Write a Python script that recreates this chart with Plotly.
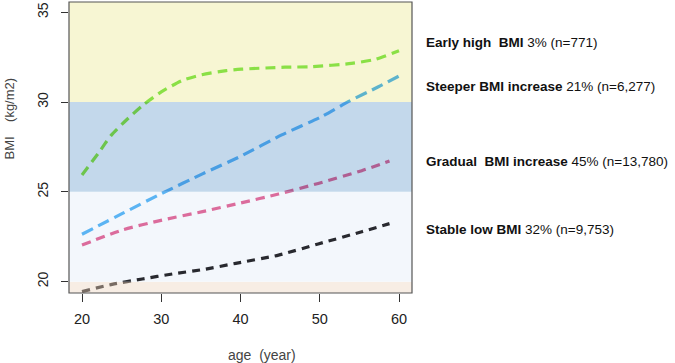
import plotly.graph_objects as go

# ---- data ----
age_green = [20, 22.06, 23.7, 25.6, 27.7, 30.05, 32.6, 34.9, 38.2, 40.1, 45.6, 49, 54, 57, 60]
bmi_green = [25.94, 27.15, 28.16, 29.0, 29.83, 30.58, 31.19, 31.5, 31.75, 31.83, 31.94, 31.97, 32.15, 32.38, 32.85]

age_blue = [20, 25.1, 30.1, 35.2, 40.1, 45.2, 50.2, 53.6, 57.4, 60]
bmi_blue = [22.64, 23.8, 24.92, 26.0, 27.0, 28.17, 29.18, 30.02, 30.85, 31.45]

age_pink = [20, 25.1, 30.1, 35.2, 40, 44.8, 49.8, 55.3, 58.8]
bmi_pink = [22.04, 22.88, 23.43, 23.9, 24.38, 24.88, 25.47, 26.18, 26.72]

age_black = [20, 23.8, 27.6, 31.4, 35.2, 39.4, 44.8, 49.8, 55.3, 58.8]
bmi_black = [19.45, 19.85, 20.15, 20.43, 20.67, 21.02, 21.48, 22.1, 22.78, 23.23]

x_ticks = [20, 30, 40, 50, 60]
y_ticks = [20, 25, 30, 35]

band_edges = [19.37, 20, 25, 30, 35.57]
band_colors = [(247, 237, 228), (243, 247, 252), (195, 216, 235), (247, 246, 211)]

labels_bold = ["Early high&nbsp;&nbsp;BMI", "Steeper BMI increase", "Gradual&nbsp; BMI increase", "Stable low BMI"]
labels_rest = ["3% (n=771)", "21% (n=6,277)", "45% (n=13,780)", "32% (n=9,753)"]
label_y = [33.3, 30.85, 26.68, 22.88]

series = [
    (age_green, bmi_green, (142, 232, 84), "10px,6px"),
    (age_blue, bmi_blue, (96, 186, 246), "12px,6px"),
    (age_pink, bmi_pink, (230, 112, 158), "9px,6px"),
    (age_black, bmi_black, (42, 42, 48), "8px,6px"),
]

XR = [18.36, 61.64]
YR = [band_edges[0], band_edges[-1]]
span = YR[1] - YR[0]


def multiply(c, b):
    return "rgb(%d,%d,%d)" % tuple(round(ci * bi / 255) for ci, bi in zip(c, b))


fig = go.Figure()
# invisible trace so the main (x, y) subplot carries the shapes and ticks
fig.add_trace(go.Scatter(x=[XR[0]], y=[YR[0]], mode="markers", marker=dict(opacity=0),
                         hoverinfo="skip", showlegend=False))

layout_axes = {}
for i in range(4):
    lo, hi = band_edges[i], band_edges[i + 1]
    ax_name = "yaxis%d" % (i + 2)
    layout_axes[ax_name] = dict(domain=[(lo - YR[0]) / span, (hi - YR[0]) / span], range=[lo, hi],
                                visible=False, showgrid=False, zeroline=False, anchor="x")
    for si, (xs, ys, col, dash) in enumerate(series):
        c = multiply(col, band_colors[i])
        if si == 3 and i == 0:
            c = "rgb(120,108,100)"
        fig.add_trace(go.Scatter(x=xs, y=ys, mode="lines", yaxis="y%d" % (i + 2),
                                 line=dict(color=c, width=3.2, dash=dash, shape="spline", smoothing=0.6),
                                 hoverinfo="skip", showlegend=False))

shapes = []
for i in range(4):
    shapes.append(dict(type="rect", xref="paper", yref="y", x0=0, x1=1,
                       y0=band_edges[i], y1=band_edges[i + 1],
                       fillcolor="rgb(%d,%d,%d)" % band_colors[i], line=dict(width=0), layer="below"))
shapes.append(dict(type="rect", xref="paper", yref="paper", x0=0, x1=1, y0=0, y1=1,
                   line=dict(color="#555555", width=1.2), fillcolor="rgba(0,0,0,0)", layer="above"))

annotations = []
for b, r, yy in zip(labels_bold, labels_rest, label_y):
    annotations.append(dict(xref="paper", yref="y", x=1.035, y=yy, xanchor="left", yanchor="middle",
                            text=f"<b>{b}</b> {r}", showarrow=False,
                            font=dict(family="Liberation Sans, Arial", size=13.5, color="#111111")))
annotations.append(dict(xref="paper", yref="paper", x=(9 - 69) / 343, y=(293 - 118.5) / 291,
                        xanchor="center", yanchor="middle", textangle=-90,
                        text="BMI&nbsp;&nbsp;&nbsp;&nbsp;(kg/m2)", showarrow=False,
                        font=dict(family="Liberation Sans, Arial", size=13, color="#444444")))
annotations.append(dict(xref="paper", yref="paper", x=(261.5 - 69) / 343, y=-(355 - 293) / 291,
                        xanchor="center", yanchor="middle",
                        text="age&nbsp; (year)", showarrow=False,
                        font=dict(family="Liberation Sans, Arial", size=14, color="#444444")))

fig.update_layout(
    width=675, height=363,
    margin=dict(l=69, r=263, t=2, b=70),
    paper_bgcolor="white", plot_bgcolor="rgba(0,0,0,0)",
    shapes=shapes, annotations=annotations,
    xaxis=dict(range=XR, tickvals=x_ticks, ticks="outside", ticklen=8, tickcolor="#333333",
               showgrid=False, zeroline=False, showline=False, ticklabelstandoff=5,
               tickfont=dict(family="Liberation Sans, Arial", size=14.5, color="#222222")),
    yaxis=dict(range=YR, tickvals=y_ticks, ticks="outside", ticklen=7, tickcolor="#333333",
               tickangle=-90, showgrid=False, zeroline=False, showline=False, ticklabelstandoff=7,
               tickfont=dict(family="Liberation Sans, Arial", size=14, color="#222222")),
    **layout_axes,
)

fig.write_html("out.html")
